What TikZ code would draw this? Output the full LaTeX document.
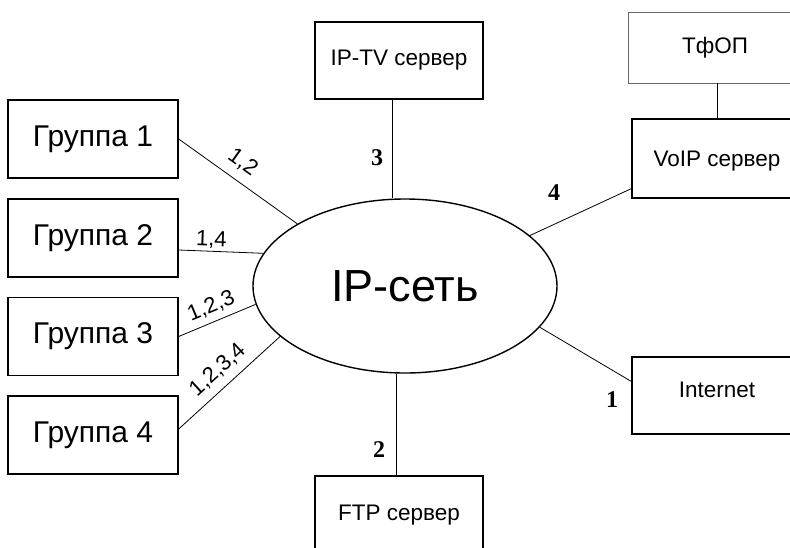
\documentclass[tikz,border=0pt]{standalone}
\usepackage{fontspec}
\setmainfont{Liberation Sans}
\newfontfamily\numfont{Liberation Serif}
\usepackage{tikz}
\usetikzlibrary{shapes.geometric}

\tikzset{
  grpbox/.style={draw, line width=1.4pt, inner sep=0pt, minimum width=170pt, minimum height=78pt, font=\fontsize{30}{32}\selectfont},
  srvbox/.style={draw, line width=1.2pt, inner sep=0pt, minimum width=168pt, minimum height=77pt, font=\fontsize{22.5}{24}\selectfont},
  lnk/.style={line width=0.8pt},
  grplbl/.style={font=\fontsize{22}{24}\selectfont, inner sep=2pt},
  numlbl/.style={font=\numfont\bfseries\fontsize{24}{26}\selectfont}
}

\begin{document}
\begin{tikzpicture}[x=1pt,y=-1pt]
      \clip (0,0) rectangle (790,547);
      \fill[white] (0,0) rectangle (790,547);

      \node[draw, ellipse, line width=1.4pt, inner sep=0pt, minimum width=304pt, minimum height=174pt, font=\fontsize{45}{50}\selectfont] (net) at (405,286) {IP-сеть};

      \node[grpbox] (g1) at (93,139) {Группа 1};
      \node[grpbox] (g2) at (93,238) {Группа 2};
      \node[grpbox] (g3) at (93,336.5) {Группа 3};
      \node[grpbox] (g4) at (93,435) {Группа 4};

      \node[srvbox] (tv) at (399,60.5) {IP-TV сервер};
      \node[srvbox, minimum height=78pt] (ftp) at (399,515) {FTP сервер};
      \node[srvbox, draw=black!60, line width=0.8pt, minimum width=174pt, minimum height=71pt] (pstn) at (715,47.5) {ТфОП};
      \node[srvbox, minimum width=170pt, minimum height=79pt, text depth=-10pt] (voip) at (717,158.5) {VoIP сервер};
      \node[srvbox, minimum width=170pt, text depth=12pt] (inet) at (717,395.5) {Internet};

      \draw[lnk] (g1.east) -- (net.150) node[grplbl, sloped, above=7pt, pos=0.45] {1,2};
      \draw[lnk] ([yshift=-12pt]g2.east) -- (net.167) node[grplbl, sloped, above, pos=0.38] {1,4};
      \draw[lnk] (g3.east) -- (net.187) node[grplbl, sloped, above=4pt, pos=0.5] {1,2,3};
      \draw[lnk] ([yshift=6pt]g4.east) -- (net.202) node[grplbl, sloped, above=6pt, pos=0.5] {1,2,3,4};

      \draw[lnk] ([xshift=-7pt]tv.south) -- ([xshift=-7pt]tv.south |- net.north);
      \draw[lnk] ([xshift=-3pt]ftp.north) -- ([xshift=-3pt]ftp.north |- net.south);
      \draw[lnk] (pstn.south -| 717,0) -- (voip.north -| 717,0);
      \draw[lnk] (net.22) -- ([yshift=10pt]voip.south west);
      \draw[lnk] (net.-17) -- ([yshift=14pt]inet.west);

      \node[numlbl] (n3) at (377,158) {3};
      \node[numlbl] (n4) at (554,193) {4};
      \node[numlbl] (n1) at (612,400) {1};
      \node[numlbl] (n2) at (379,450) {2};
    \end{tikzpicture}
\end{document}
